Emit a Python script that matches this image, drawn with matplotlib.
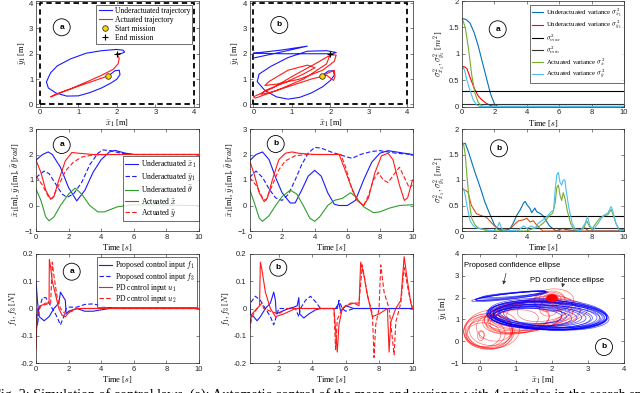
import matplotlib
matplotlib.use("Agg")
import matplotlib.pyplot as plt
from matplotlib.patches import Ellipse

plt.rcParams['font.family'] = ['Liberation Serif', 'DejaVu Serif']
plt.rcParams['mathtext.fontset'] = 'cm'

# ---------------- data ----------------
# search area (m)
area_x = [0, 4, 4, 0, 0]
area_y = [0, 0, 4, 4, 0]
start_pt = (1.78, 1.13)
end_pt = (2.0, 2.0)

# (a) trajectories
a_under_x = [1.78, 1.95, 2.06, 2.08, 2.00, 1.85, 1.60, 1.30, 1.00, 0.70, 0.42, 0.22, 0.17,
             0.28, 0.45, 0.80, 1.20, 1.60, 1.99, 2.16, 2.20, 2.12, 2.00]
a_under_y = [1.13, 1.33, 1.35, 1.18, 1.00, 0.85, 0.65, 0.47, 0.34, 0.33, 0.45, 0.65, 0.89,
             1.25, 1.52, 1.80, 2.02, 2.12, 2.17, 2.14, 2.07, 2.01, 2.00]
a_act_x = [1.78, 1.40, 1.00, 0.60, 0.35, 0.28, 0.40, 0.80, 1.20, 1.60, 1.90, 2.03, 2.06, 2.00]
a_act_y = [1.13, 0.93, 0.72, 0.50, 0.34, 0.30, 0.40, 0.62, 0.88, 1.15, 1.38, 1.60, 1.82, 2.00]

# (b) trajectories
b_under_x = [1.77, 1.95, 2.08, 2.10, 2.00, 1.80, 1.50, 1.20, 0.90, 0.60, 0.30, 0.10, 0.15,
             0.45, 0.90, 1.40, 1.90, 2.15, 2.05, 1.50, 0.80, 0.00, 0.00, 0.70, 1.40, 0.70, 0.00]
b_under_y = [1.13, 1.32, 1.33, 1.15, 0.95, 0.70, 0.45, 0.28, 0.21, 0.30, 0.55, 0.90, 1.20,
             1.50, 1.85, 2.10, 2.12, 2.05, 2.00, 2.00, 2.00, 2.02, 1.83, 2.06, 2.30, 2.14, 2.02]
b_act_x = [1.78, 2.10, 2.12, 2.08, 1.90, 1.50, 1.00, 0.50, 0.20, 0.30, 0.80, 1.30, 1.60, 1.40,
           0.90, 0.40, 0.30, 0.60, 1.20, 1.80, 2.10, 2.15, 2.00, 1.60, 1.00, 0.50, 0.00, 0.05,
           0.60, 1.30, 1.90, 2.00]
b_act_y = [1.13, 1.35, 1.10, 0.95, 1.15, 1.00, 0.75, 0.50, 0.40, 0.55, 0.85, 1.20, 1.45, 1.55,
           1.35, 0.90, 0.75, 0.80, 1.00, 1.35, 1.70, 1.95, 1.95, 1.60, 1.10, 0.65, 0.30, 0.25,
           0.55, 1.00, 1.60, 2.00]

# (a) variances
var_max = 0.3
var_min = 0.05
va_x_t = [0, 0.25, 0.5, 0.75, 1.0, 1.25, 1.5, 1.75, 2.0, 2.2, 10]
va_x = [1.67, 1.65, 1.58, 1.40, 1.15, 0.85, 0.55, 0.25, 0.05, 0.0, 0.0]
va_y_t = [0, 0.1, 0.3, 0.5, 0.75, 1.0, 1.25, 1.5, 1.75, 2.0, 10]
va_y = [0.72, 0.76, 0.72, 0.55, 0.35, 0.20, 0.12, 0.06, 0.02, 0.0, 0.0]
va_xt_t = [0, 0.2, 0.4, 0.6, 0.8, 1.0, 1.2, 1.5, 10]
va_xt = [1.68, 1.50, 1.10, 0.60, 0.25, 0.08, 0.01, 0.0, 0.0]
va_yt_t = [0, 0.15, 0.3, 0.5, 0.7, 0.9, 1.1, 10]
va_yt = [0.75, 0.70, 0.50, 0.30, 0.12, 0.03, 0.0, 0.0]

# (b) variances
vb_x_t = [0, 0.2, 0.4, 0.6, 0.8, 1.0, 1.2, 1.4, 1.6, 1.8, 2.0, 2.2, 2.4, 2.8, 3.0, 3.2, 3.4,
          3.6, 3.8, 3.9, 4.0, 4.2, 4.3, 4.5, 4.6, 4.8, 5.0, 5.2, 5.4, 5.6, 5.8, 6.2, 6.4,
          7.0, 7.6, 7.8, 10]
vb_x = [1.70, 1.72, 1.55, 1.35, 1.15, 0.97, 0.78, 0.58, 0.42, 0.27, 0.12, 0.04, 0.01, 0.02,
        0.06, 0.18, 0.32, 0.42, 0.55, 0.58, 0.52, 0.44, 0.36, 0.45, 0.38, 0.35, 0.30, 0.20,
        0.10, 0.05, 0.0, 0.05, 0.03, 0.0, 0.06, 0.0, 0.0]
vb_y_t = [0, 0.2, 0.37, 0.58, 0.89, 1.2, 1.5, 2.0, 2.3, 2.6, 3.0, 3.3, 3.5, 3.8, 4.0, 4.2,
          4.4, 4.6, 4.8, 5.0, 9.6, 10]
vb_y = [0.82, 0.80, 0.76, 0.50, 0.34, 0.30, 0.27, 0.10, 0.04, 0.01, 0.05, 0.15, 0.20, 0.22,
        0.25, 0.18, 0.20, 0.12, 0.05, 0.0, 0.0, 0.04]
vb_xt_t = [0, 0.1, 0.2, 0.3, 0.4, 0.5, 0.6, 0.8, 1.0, 1.3, 1.6, 4.0, 4.4, 4.8, 5.0, 5.2, 5.4,
           5.6, 5.75, 5.85, 5.95, 6.05, 6.15, 6.25, 6.35, 6.5, 6.7, 6.9, 7.2, 7.5, 7.7, 7.85,
           8.0, 8.2, 8.5, 8.8, 9.0, 9.2, 9.3, 9.5, 9.7, 10]
vb_xt = [1.75, 1.70, 1.50, 1.10, 0.75, 0.45, 0.25, 0.12, 0.06, 0.03, 0.0, 0.0, 0.05, 0.10,
         0.15, 0.22, 0.30, 0.35, 0.55, 0.85, 0.90, 0.70, 0.60, 0.75, 0.65, 0.40, 0.15, 0.03,
         0.0, 0.05, 0.20, 0.10, 0.03, 0.12, 0.25, 0.30, 0.32, 0.42, 0.35, 0.15, 0.03, 0.0]
vb_yt_t = [0, 0.1, 0.2, 0.3, 0.4, 0.5, 0.7, 0.9, 1.2, 1.6, 2.0, 2.2, 2.3, 2.45, 2.6, 3.5, 3.8,
           4.0, 4.3, 4.5, 4.7, 5.0, 5.3, 5.5, 5.65, 5.75, 5.85, 5.95, 6.05, 6.15, 6.25, 6.35,
           6.45, 6.6, 6.8, 7.0, 7.3, 7.6, 7.75, 7.9, 8.1, 8.4, 8.7, 9.0, 9.2, 9.3, 9.5, 9.7, 10]
vb_yt = [0.85, 0.82, 0.70, 0.50, 0.35, 0.20, 0.10, 0.06, 0.04, 0.02, 0.0, 0.08, 0.17, 0.05,
         0.0, 0.02, 0.10, 0.05, 0.10, 0.05, 0.15, 0.22, 0.30, 0.38, 0.40, 0.80, 1.10, 1.15,
         0.95, 0.90, 1.00, 1.00, 0.75, 0.45, 0.15, 0.03, 0.0, 0.15, 0.28, 0.10, 0.02, 0.15,
         0.30, 0.35, 0.48, 0.40, 0.15, 0.02, 0.0]

# (a) states
sa_t1 = [0, 0.4, 0.75, 1.0, 1.5, 2.0, 2.5, 3.0, 3.5, 4.0, 4.5, 4.85, 5.5, 6.0, 10]
sa_x = [1.78, 2.00, 2.10, 2.00, 1.50, 0.70, 0.18, 0.60, 1.30, 1.80, 2.10, 2.16, 2.05, 2.00, 2.00]
sa_t2 = [0, 0.5, 0.8, 1.2, 1.6, 1.9, 2.3, 2.8, 3.3, 3.8, 4.1, 4.6, 5.2, 6.0, 10]
sa_y = [1.10, 1.35, 1.25, 0.85, 0.45, 0.32, 0.45, 0.90, 1.60, 2.05, 2.18, 2.15, 2.05, 2.00, 2.00]
sa_t3 = [0, 0.3, 0.6, 0.8, 1.1, 1.5, 2.0, 2.4, 2.8, 3.3, 3.8, 4.2, 5.0, 6.0, 7.0, 10]
sa_th = [0.65, 0.20, -0.45, -0.60, -0.45, 0.0, 0.45, 0.68, 0.45, 0.0, -0.25, -0.25, -0.05,
         0.03, 0.02, 0.0]
sa_t4 = [0, 0.3, 0.6, 0.9, 1.1, 1.4, 1.8, 2.2, 2.6, 3.5, 10]
sa_xt = [1.78, 1.30, 0.60, 0.24, 0.35, 1.00, 1.75, 2.08, 2.05, 2.00, 2.00]
sa_t5 = [0, 0.4, 0.8, 1.0, 1.4, 1.8, 2.3, 2.8, 3.5, 4.5, 10]
sa_yt = [1.15, 0.80, 0.30, 0.28, 0.80, 1.35, 1.70, 1.90, 1.98, 2.00, 2.00]

# (b) states
sb_t1 = [0, 0.4, 0.8, 1.2, 1.6, 2.0, 2.5, 2.8, 3.2, 3.6, 4.0, 4.4, 4.8, 5.2, 5.5, 6.0, 6.5,
         7.0, 7.5, 8.0, 8.5, 9.0, 10]
sb_x = [1.75, 2.00, 2.10, 1.80, 1.10, 0.50, 0.10, 0.10, 0.60, 1.15, 1.38, 1.15, 0.50, 0.05,
        0.0, 0.0, 0.20, 1.00, 1.70, 2.05, 2.15, 2.10, 2.00]
sb_t2 = [0, 0.4, 0.8, 1.2, 1.6, 2.0, 2.4, 2.8, 3.2, 3.6, 4.0, 4.4, 5.0, 5.5, 6.0, 6.3, 6.8,
         7.5, 8.0, 8.5, 9.0, 10]
sb_y = [1.10, 1.35, 1.10, 0.65, 0.30, 0.20, 0.45, 1.00, 1.60, 2.05, 2.28, 2.25, 2.10, 2.00,
        1.90, 1.85, 2.00, 2.12, 2.15, 2.10, 2.05, 2.00]
sb_t3 = [0, 0.3, 0.6, 0.8, 1.2, 1.6, 2.0, 2.5, 2.9, 3.3, 3.7, 4.0, 4.3, 4.8, 5.2, 5.7, 6.2,
         6.5, 7.0, 7.6, 8.0, 8.6, 9.2, 10]
sb_th = [0.65, 0.10, -0.50, -0.62, -0.40, 0.0, 0.35, 0.60, 0.45, 0.0, -0.50, -0.62, -0.45,
         0.0, 0.20, 0.28, 0.50, 0.35, -0.05, -0.28, -0.25, -0.10, 0.0, 0.03]
sb_t4 = [0, 0.3, 0.6, 0.9, 1.1, 1.4, 1.8, 2.2, 2.6, 3.0, 4.0, 5.5, 5.8, 6.2, 6.6, 7.0, 7.3,
         7.7, 8.1, 8.5, 8.8, 9.2, 9.5, 9.7, 10]
sb_xt = [1.78, 1.20, 0.50, 0.15, 0.30, 1.00, 1.80, 2.05, 2.10, 2.05, 2.00, 2.00, 1.50, 0.80,
         0.20, 0.0, 0.30, 1.30, 1.95, 2.05, 1.80, 0.80, 0.20, 0.30, 1.00]
sb_t5 = [0, 0.4, 0.8, 1.0, 1.4, 1.8, 2.2, 2.8, 3.5, 5.6, 5.9, 6.3, 6.7, 7.0, 7.3, 7.6, 7.9,
         8.2, 8.5, 8.9, 9.2, 9.5, 9.8, 10]
sb_yt = [1.10, 0.80, 0.30, 0.20, 0.80, 1.40, 1.75, 1.95, 2.00, 2.00, 1.50, 0.60, 0.15, 0.0,
         0.40, 1.00, 1.30, 1.00, 0.90, 1.25, 1.50, 1.10, 0.70, 0.80]

# (a) control inputs
ca_t1 = [0, 0.1, 0.2, 0.5, 0.8, 1.1, 1.4, 1.5, 1.7, 1.8, 1.85, 2.0, 2.5, 3.0, 3.5, 4.0, 4.5, 10]
ca_f1 = [0.10, 0.02, -0.03, -0.045, -0.03, 0.0, 0.02, 0.06, 0.04, 0.03, -0.02, -0.01, 0.0,
         -0.01, -0.01, -0.005, 0.0, 0.0]
ca_t2 = [0, 0.1, 0.2, 0.4, 0.6, 0.8, 1.2, 1.5, 1.7, 1.85, 2.0, 2.5, 3.0, 3.5, 4.0, 4.5, 5.0, 10]
ca_f3 = [-0.02, -0.06, 0.0, 0.04, 0.04, 0.02, -0.02, -0.06, -0.03, 0.0, 0.005, 0.005, 0.015,
         0.017, 0.01, 0.003, 0.0, 0.0]
ca_t3 = [0, 0.05, 0.1, 0.3, 0.6, 0.8, 0.82, 0.9, 1.0, 1.2, 1.4, 1.6, 1.8, 2.1, 2.5, 10]
ca_u1 = [-0.15, -0.05, 0.0, 0.01, 0.02, 0.02, 0.18, 0.15, 0.10, 0.05, 0.0, -0.025, -0.03,
         -0.01, 0.0, 0.0]
ca_t4 = [0, 0.1, 0.3, 0.6, 0.9, 1.0, 1.1, 1.3, 1.5, 1.8, 2.2, 2.5, 10]
ca_u2 = [-0.10, -0.02, 0.01, 0.015, 0.02, 0.17, 0.12, 0.04, 0.0, -0.02, -0.01, 0.0, 0.0]

# (b) control inputs
cb_t1 = [0.25, 0.3, 0.5, 0.7, 0.9, 1.2, 1.5, 1.7, 1.8, 1.85, 2.2, 2.6, 2.9, 3.1, 3.2, 3.25,
         3.5, 3.8, 4.2, 4.5, 5.4, 5.6, 5.7, 6.0, 6.5, 10]
cb_f1 = [0.04, -0.02, -0.03, -0.045, -0.03, 0.0, 0.02, 0.06, 0.03, -0.02, -0.01, 0.0, 0.005,
         0.01, 0.04, -0.02, -0.035, -0.02, -0.005, 0.0, 0.0, 0.02, -0.01, 0.01, 0.0, 0.0]
cb_t2 = [0.25, 0.3, 0.6, 0.9, 1.2, 1.5, 1.7, 1.8, 2.0, 3.0, 3.2, 3.3, 3.6, 3.9, 4.2, 4.5, 5.5,
         5.6, 5.8, 6.0, 6.5, 10]
cb_f3 = [-0.05, 0.02, 0.045, 0.03, 0.0, -0.03, -0.06, -0.04, 0.0, 0.0, -0.03, 0.0, 0.03,
         0.045, 0.025, 0.0, 0.0, 0.03, 0.0, -0.01, 0.0, 0.0]
cb_t3 = [0.25, 0.4, 0.7, 0.85, 0.9, 1.0, 1.2, 1.5, 1.8, 2.3, 3.0, 5.3, 5.5, 5.6, 5.8, 6.0, 6.5,
         6.8, 6.9, 7.1, 7.3, 7.6, 8.0, 8.5, 8.6, 8.7, 9.0, 9.3, 9.5, 9.7, 9.9, 10]
cb_u1 = [-0.06, -0.02, 0.0, 0.01, 0.17, 0.14, 0.06, 0.0, -0.03, -0.02, 0.0, 0.0, -0.16, -0.06,
         0.0, 0.01, 0.02, 0.01, 0.17, 0.12, 0.05, -0.03, -0.02, 0.0, -0.16, -0.05, 0.0, 0.03,
         0.19, 0.10, 0.02, 0.0]
cb_t4 = [0.25, 0.4, 0.7, 1.0, 1.1, 1.5, 2.0, 2.5, 5.3, 5.4, 5.5, 5.8, 6.3, 6.8, 7.0, 7.3, 7.6,
         7.7, 7.8, 8.0, 8.1, 8.3, 8.6, 8.9, 9.0, 9.3, 9.5, 9.8, 10]
cb_u2 = [-0.08, -0.03, 0.0, 0.02, 0.0, -0.01, -0.02, 0.0, 0.0, -0.15, -0.04, 0.0, 0.02, 0.02,
         0.16, 0.05, -0.02, -0.18, -0.06, 0.0, 0.16, 0.06, 0.0, -0.17, -0.05, 0.02, 0.15, 0.05,
         0.0]

# confidence ellipses (centre x, centre y, width, height, angle)
blue_ell_cx = [1.85, 1.80, 1.78, 1.75, 1.70, 1.72, 1.65, 1.60, 1.55, 1.90, 1.95, 2.00, 1.50,
               1.45, 2.05, 1.88, 1.82, 1.40, 1.92, 1.86, 1.98, 0.85, 0.90, 0.80, 0.95, 0.85,
               0.88]
blue_ell_cy = [1.18, 1.15, 1.20, 1.12, 1.15, 1.10, 1.18, 1.12, 1.15, 1.20, 1.15, 1.22, 1.10,
               1.20, 1.18, 1.25, 1.08, 1.15, 1.22, 1.20, 1.16, 2.08, 2.12, 2.05, 2.15, 2.10,
               2.07]
blue_ell_w = [3.35, 3.20, 3.10, 3.00, 2.85, 2.70, 2.60, 2.45, 2.30, 3.25, 3.15, 2.95, 2.10,
              1.90, 2.80, 3.30, 3.05, 1.75, 3.28, 3.32, 3.22, 2.00, 1.90, 2.10, 1.80, 1.95,
              2.05]
blue_ell_h = [1.30, 1.22, 1.18, 1.10, 1.05, 0.98, 0.95, 0.90, 0.85, 1.35, 1.25, 1.15, 0.80,
              0.75, 1.05, 1.40, 1.12, 0.72, 1.32, 1.36, 1.28, 0.22, 0.20, 0.25, 0.18, 0.20,
              0.24]
blue_ell_a = [-4, -3, -5, -2, -4, -3, -6, -2, -5, -6, -4, -7, -3, -4, -5, -5, -2, -3, -5, -4,
              -6, 10, 9, 11, 8, 12, 10]
red_ell_cx = [0.25, 0.20, 0.30, 0.15, 0.35, 0.10, 0.40, 0.22, 0.28, 0.02, 0.05, 1.20, 1.30,
              1.00, 1.50, 1.60, 1.10, 0.90, 1.40, 1.70, 1.80, 1.25, 1.45, 1.55, 2.00, 2.00,
              2.00, 1.98, 2.00, 1.95, 1.90, 2.05]
red_ell_cy = [0.45, 0.40, 0.50, 0.35, 0.55, 0.30, 0.60, 0.48, 0.38, 0.25, 0.30, 1.10, 1.15,
              1.00, 1.20, 1.30, 0.95, 0.90, 1.25, 1.40, 1.50, 1.05, 1.18, 1.28, 1.95, 1.97,
              1.98, 2.00, 1.95, 1.80, 1.50, 1.90]
red_ell_w = [1.40, 1.30, 1.20, 1.10, 1.50, 0.95, 1.00, 1.35, 1.25, 0.18, 0.14, 2.20, 2.40,
             1.90, 2.60, 2.80, 1.70, 1.50, 2.00, 2.00, 1.60, 2.10, 2.30, 2.50, 0.50, 0.35,
             0.25, 0.15, 0.70, 0.90, 0.50, 1.10]
red_ell_h = [1.65, 1.50, 1.40, 1.25, 1.75, 1.10, 1.20, 1.55, 1.45, 0.45, 0.35, 1.40, 1.30,
             1.30, 1.35, 1.30, 1.10, 1.00, 1.10, 1.20, 1.10, 1.25, 1.20, 1.15, 0.45, 0.35,
             0.25, 0.20, 0.70, 0.90, 0.70, 1.00]
red_ell_a = [0, 0, 5, 0, 0, 0, 10, 0, 3, 0, 0, 15, 12, 18, 10, 8, 20, 22, 15, 20, 25, 14, 11,
             9, 0, 0, 0, 0, 0, 0, 0, 10]
red_blob = (2.0, 1.97, 0.30, 0.35)

BLUE = '#1a1aff'
RED = '#ff1a1a'
GREEN = '#2e9e2e'
C_BLUE = '#0072BD'
C_ORANGE = '#D95319'
C_GREEN = '#77AC30'
C_CYAN = '#4DBEEE'
FRAME = '#262626'

W, H = 640, 393
fig = plt.figure(figsize=(6.4, 3.93), dpi=100)


def make_ax(l, t, r, b):
    ax = fig.add_axes([l / W, 1 - b / H, (r - l) / W, (b - t) / H])
    for s in ax.spines.values():
        s.set_linewidth(0.5)
        s.set_color(FRAME)
    ax.tick_params(direction='in', length=2.5, width=0.4, labelsize=5.5, pad=2,
                   top=True, right=True, colors=FRAME, labelfontfamily='Liberation Sans')
    return ax


def tag(px, py, s):
    fig.add_artist(Ellipse((px / W, 1 - py / H), 17 / W, 17 / H, transform=fig.transFigure,
                           fill=False, ec='k', lw=0.6))
    fig.text(px / W, 1 - py / H, s, ha='center', va='center', fontsize=6,
             fontweight='bold', family='Liberation Sans')


def legend(ax, anchor, fs=5.5, spacing=0.12):
    lg = ax.legend(loc='upper right', bbox_to_anchor=anchor, fontsize=fs, frameon=True,
                   fancybox=False, edgecolor='k', handlelength=1.7, labelspacing=spacing,
                   borderpad=0.3, handletextpad=0.4, borderaxespad=0)
    lg.get_frame().set_linewidth(0.5)
    return lg


lab = dict(fontsize=6, labelpad=1)

# ---- row 1: trajectories ----
for col, (ux, uy, ax_, ay_) in enumerate([(a_under_x, a_under_y, a_act_x, a_act_y),
                                           (b_under_x, b_under_y, b_act_x, b_act_y)]):
    l = [36, 249.5][col]
    ax = make_ax(l, 1, l + 163, 106.5)
    ax.plot(area_x, area_y, 'k--', lw=1.3, dashes=(3, 2))
    ax.plot(ux, uy, color=BLUE, lw=0.8, label='Underactuated trajectory')
    ax.plot(ax_, ay_, color=RED, lw=0.8, label='Actuated trajectory')
    ax.plot(*start_pt, 'o', ms=4, mfc='#ffd700', mec='#333333', mew=0.6, ls='none',
            label='Start mission')
    ax.plot(*end_pt, '+', ms=5, color='k', mew=0.8, ls='none', label='End mission')
    ax.set_xlim(-0.1, 4.13)
    ax.set_ylim(-0.08, 4.08)
    ax.set_xticks([0, 1, 2, 3, 4])
    ax.set_yticks([0, 1, 2, 3, 4])
    ax.set_xlabel(r'$\bar{x}_1$ [m]', **lab)
    ax.set_ylabel(r'$\bar{y}_1$ [m]', **lab)
    if col == 0:
        legend(ax, (0.96, 0.965))

# ---- row 1 col 3: variance (a) ----
ax = make_ax(462, 1, 624, 106.5)
ax.plot(va_x_t, va_x, color=C_BLUE, lw=0.8, label=r'Underactuated variance $\sigma^2_{\bar{x}_1}$')
ax.plot(va_y_t, va_y, color='red', lw=0.8, label=r'Underactuated variance $\sigma^2_{\bar{y}_1}$')
ax.axhline(var_max, color='k', lw=0.8, label=r'$\sigma^2_{max}$')
ax.axhline(var_min, color='#333333', lw=0.8, label=r'$\sigma^2_{min}$')
ax.plot(va_xt_t, va_xt, color=C_GREEN, lw=0.8, label=r'Actuated variance $\sigma^2_{\tilde{x}}$')
ax.plot(va_yt_t, va_yt, color=C_CYAN, lw=0.8, label=r'Actuated variance $\sigma^2_{\tilde{y}}$')
ax.set_xlim(0, 10)
ax.set_ylim(0, 2)
ax.set_xticks([0, 2, 4, 6, 8, 10])
ax.set_yticks([0, 0.5, 1, 1.5, 2])
ax.set_yticklabels(['0', '0.5', '1', '1.5', '2'])
ax.set_xlabel(r'Time [$s$]', **lab)
ax.set_ylabel(r'$\sigma^2_{\bar{x}_1}, \sigma^2_{\bar{y}_1}$ [$m^2$]', **lab)
legend(ax, (1.0, 0.965), fs=4.9, spacing=0.0)

# ---- row 2: states ----
for col, d in enumerate([(sa_t1, sa_x, sa_t2, sa_y, sa_t3, sa_th, sa_t4, sa_xt, sa_t5, sa_yt),
                         (sb_t1, sb_x, sb_t2, sb_y, sb_t3, sb_th, sb_t4, sb_xt, sb_t5, sb_yt)]):
    l = [36, 249.5][col]
    ax = make_ax(l, 129, l + 163, 231)
    ax.plot(d[0], d[1], color=BLUE, lw=0.8, label=r'Underactuated $\bar{x}_1$')
    ax.plot(d[2], d[3], color=BLUE, lw=0.8, ls='--', dashes=(4, 2), label=r'Underactuated $\bar{y}_1$')
    ax.plot(d[4], d[5], color=GREEN, lw=0.8, label=r'Underactuated $\bar{\theta}$')
    ax.plot(d[6], d[7], color=RED, lw=0.8, label=r'Actuated $\tilde{x}$')
    ax.plot(d[8], d[9], color=RED, lw=0.8, ls='--', dashes=(4, 2), label=r'Actuated $\tilde{y}$')
    ax.set_xlim(0, 10)
    ax.set_ylim(-1, 3)
    ax.set_xticks([0, 2, 4, 6, 8, 10])
    ax.set_yticks([-1, 0, 1, 2, 3])
    ax.set_xlabel(r'Time [$s$]', **lab)
    ax.set_ylabel(r'$\bar{x}_1$[m], $\bar{y}_1$[m], $\bar{\theta}$ [$rad$]', **lab)
    if col == 0:
        legend(ax, (1.0, 0.735))

# ---- row 2 col 3: variance (b) ----
ax = make_ax(462, 129, 624, 231)
ax.plot(vb_x_t, vb_x, color=C_BLUE, lw=0.8)
ax.plot(vb_y_t, vb_y, color=C_ORANGE, lw=0.8)
ax.axhline(var_max, color='k', lw=0.8)
ax.axhline(var_min, color='#333333', lw=0.8)
ax.plot(vb_xt_t, vb_xt, color=C_GREEN, lw=0.8)
ax.plot(vb_yt_t, vb_yt, color=C_CYAN, lw=0.8)
ax.set_xlim(0, 10)
ax.set_ylim(0, 2)
ax.set_xticks([0, 2, 4, 6, 8, 10])
ax.set_yticks([0, 0.5, 1, 1.5, 2])
ax.set_yticklabels(['0', '0.5', '1', '1.5', '2'])
ax.set_xlabel(r'Time [$s$]', **lab)
ax.set_ylabel(r'$\sigma^2_{\bar{x}_1}, \sigma^2_{\bar{y}_1}$ [$m^2$]', **lab)

# ---- row 3: control inputs ----
for col, d in enumerate([(ca_t1, ca_f1, ca_t2, ca_f3, ca_t3, ca_u1, ca_t4, ca_u2),
                         (cb_t1, cb_f1, cb_t2, cb_f3, cb_t3, cb_u1, cb_t4, cb_u2)]):
    l = [36, 249.5][col]
    ax = make_ax(l, 254, l + 163, 363)
    ax.plot(d[0], d[1], color=BLUE, lw=0.8, label=r'Proposed control input $f_1$')
    ax.plot(d[2], d[3], color=BLUE, lw=0.8, ls='--', dashes=(4, 2), label=r'Proposed control input $f_3$')
    ax.plot(d[4], d[5], color=RED, lw=0.8, label=r'PD control input $u_1$')
    ax.plot(d[6], d[7], color=RED, lw=0.8, ls='--', dashes=(4, 2), label=r'PD control input $u_2$')
    ax.set_xlim([0, 0.25][col], 10)
    ax.set_ylim(-0.2, 0.2)
    ax.set_xticks([[0, 2, 4, 6, 8, 10], [2, 4, 6, 8, 10]][col])
    ax.set_yticks([-0.2, -0.1, 0, 0.1, 0.2])
    ax.set_yticklabels(['-0.2', '-0.1', '0', '0.1', '0.2'])
    ax.set_xlabel(r'Time [$s$]', **lab)
    ax.set_ylabel(r'$f_1, f_3$ [$N$]', **lab)
    if col == 0:
        legend(ax, (0.988, 0.972), spacing=-0.1)

# ---- row 3 col 3: confidence ellipses ----
ax = make_ax(462, 254, 624, 363)
for cx, cy, w, h, a in zip(red_ell_cx, red_ell_cy, red_ell_w, red_ell_h, red_ell_a):
    ax.add_patch(Ellipse((cx, cy), w, h, angle=a, fill=False, ec='red', lw=0.5, alpha=0.55))
for cx, cy, w, h, a in zip(blue_ell_cx, blue_ell_cy, blue_ell_w, blue_ell_h, blue_ell_a):
    ax.add_patch(Ellipse((cx, cy), w, h, angle=a, fill=False, ec='blue', lw=0.55, alpha=0.65))
ax.add_patch(Ellipse(red_blob[:2], red_blob[2], red_blob[3], fc='red', ec='red', lw=0.5))
ax.set_xlim(-0.5, 4)
ax.set_ylim(-1, 4)
ax.set_xticks([0, 1, 2, 3, 4])
ax.set_yticks([-1, 0, 1, 2, 3, 4])
ax.set_xlabel(r'$\bar{x}_1$ [m]', **lab)
ax.set_ylabel(r'$\bar{y}_1$ [m]', **lab)
ax.text(-0.44, 3.47, 'Proposed confidence ellipse', fontsize=5.5, family='Liberation Sans',
        va='center', ha='left')
ax.text(1.39, 2.78, 'PD confidence ellipse', fontsize=5.5, family='Liberation Sans',
        va='center', ha='left')
ax.annotate('', xy=(0.63, 2.47), xytext=(0.74, 3.24),
            arrowprops=dict(arrowstyle='-|>', lw=0.5, color='#333333', mutation_scale=5))
ax.annotate('', xy=(2.26, 2.35), xytext=(2.31, 2.63),
            arrowprops=dict(arrowstyle='-|>', lw=0.5, color='#333333', mutation_scale=5))

# ---- circled panel tags ----
for px, py, s in [(61.7, 27.3, 'a'), (279.3, 25, 'b'), (497.7, 29.3, 'a'),
                  (61.7, 145, 'a'), (275.7, 144, 'b'), (499, 148.3, 'b'),
                  (71.7, 271.7, 'a'), (278.3, 267.7, 'b'), (604, 347, 'b')]:
    tag(px, py, s)

# ---- caption (cut off at the bottom of the image, as in the source page) ----
fig.text(-0.011, -0.016, 'Fig. 2: Simulation of control laws. (a): Automatic control of the mean '
         'and variance with 4 particles in the search space', fontsize=10.2,
         family='Liberation Serif', va='baseline', ha='left')

fig.savefig('out.png', dpi=100)
